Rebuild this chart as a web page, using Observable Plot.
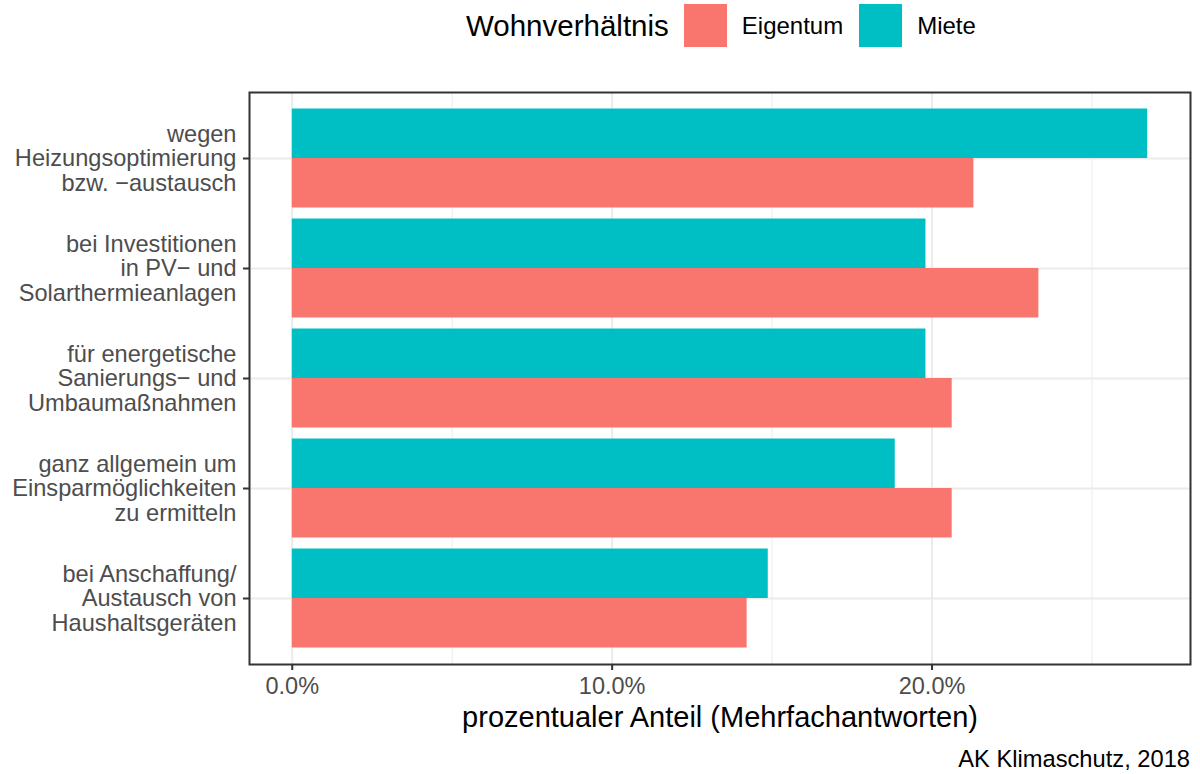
<!DOCTYPE html>
<html><head><meta charset="utf-8">
<script src="https://cdn.jsdelivr.net/npm/d3@7"></script>
<script src="https://cdn.jsdelivr.net/npm/@observablehq/plot@0.6"></script>
<style>
body{margin:0;background:#fff;font-family:"Liberation Sans",Arial,sans-serif;}
#wrap{position:relative;width:1200px;height:774px;overflow:hidden;}
#legend{position:absolute;left:466px;top:4px;height:43px;display:flex;align-items:center;}
#legend .title{font-size:29.5px;color:#000;margin-right:15px;}
#legend .key{width:43px;height:43px;margin-right:15px;}
#legend .lab{font-size:24px;color:#000;margin-right:16px;}
#chart{position:absolute;top:60px;left:0;}
#caption{position:absolute;top:748px;right:10px;font-size:23.7px;line-height:1;color:#000;white-space:nowrap;}
</style></head><body>
<div id="wrap">
<div id="legend"></div>
<div id="chart"></div>
<div id="caption"></div>
</div>
<script>
const categories = [
  "wegen\nHeizungsoptimierung\nbzw. \u2212austausch",
  "bei Investitionen\nin PV\u2212 und\nSolarthermieanlagen",
  "f\u00fcr energetische\nSanierungs\u2212 und\nUmbauma\u00dfnahmen",
  "ganz allgemein um\nEinsparm\u00f6glichkeiten\nzu ermitteln",
  "bei Anschaffung/\nAustausch von\nHaushaltsger\u00e4ten"
];
const series = ["Eigentum", "Miete"];
const colors = ["#F8766D", "#00BFC4"];
const eigentum = [0.2131, 0.2334, 0.2063, 0.2063, 0.1422];
const miete = [0.2674, 0.1981, 0.1981, 0.1885, 0.1488];
const xTicks = [0, 0.1, 0.2];
const xMinor = [0.05, 0.15, 0.25];
const legendTitle = "Wohnverh\u00e4ltnis";
const xTitle = "prozentualer Anteil (Mehrfachantworten)";
const caption = "AK Klimaschutz, 2018";

// dodge like ggplot position_dodge(width = 0.9)
const catIndex = categories.map((c, i) => i + 1);
const table = [];
categories.forEach((c, i) => {
  table.push({cat: c, series: "Miete", value: miete[i], y1: i + 1 - 0.45, y2: i + 1});
  table.push({cat: c, series: "Eigentum", value: eigentum[i], y1: i + 1, y2: i + 1 + 0.45});
});

// legend
const lg = document.getElementById("legend");
lg.innerHTML = `<span class="title">${legendTitle}</span>` +
  series.map((s, i) => `<span class="key" style="background:${colors[i]}"></span><span class="lab">${s}</span>`).join("");
document.getElementById("caption").textContent = caption;

const chart = Plot.plot({
  width: 1200,
  height: 680,
  marginLeft: 249,
  marginRight: 10,
  marginTop: 32,
  marginBottom: 76,
  style: {fontFamily: "'Liberation Sans', Arial, sans-serif", background: "white", overflow: "visible"},
  x: {domain: [-0.01337, 0.2808], label: null},
  y: {domain: [5.6, 0.4], label: null},
  color: {domain: series, range: colors},
  marks: [
    Plot.ruleX(xMinor, {stroke: "#EBEBEB", strokeWidth: 1}),
    Plot.ruleX(xTicks, {stroke: "#EBEBEB", strokeWidth: 2}),
    Plot.ruleY(catIndex, {stroke: "#EBEBEB", strokeWidth: 2}),
    Plot.rect(table, {x1: () => 0, x2: "value", y1: "y1", y2: "y2", fill: "series"}),
    Plot.frame({stroke: "#333333", strokeWidth: 2}),
    Plot.axisX({ticks: xTicks, tickFormat: d3.format(".1%"), tickSize: 6, tickPadding: 7, fontSize: 23.5,
      color: "#4D4D4D", stroke: "#333333", strokeWidth: 2, label: null}),
    Plot.axisY({ticks: catIndex, tickFormat: i => categories[i - 1], tickSize: 6, tickPadding: 7, fontSize: 23.6,
      lineHeight: 1.05, color: "#4D4D4D", stroke: "#333333", strokeWidth: 2, label: null}),
    Plot.text([xTitle], {frameAnchor: "bottom", dy: 62, fontSize: 29, fill: "black"})
  ]
});
document.getElementById("chart").appendChild(chart);
</script>
</body></html>
